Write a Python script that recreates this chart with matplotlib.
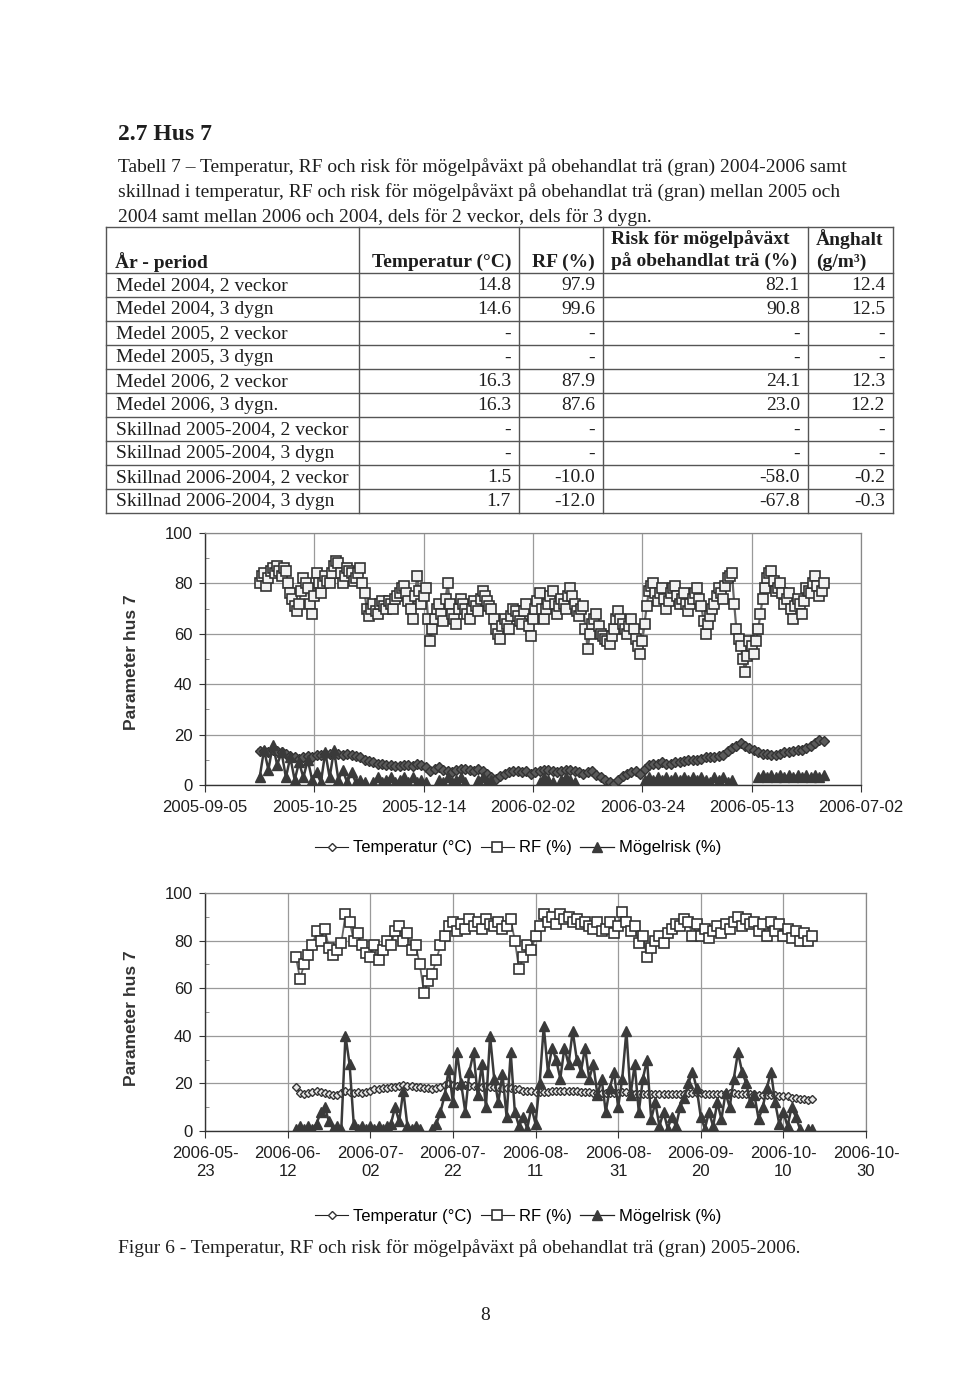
import numpy as np
import matplotlib
matplotlib.use("Agg")
import matplotlib.pyplot as plt
from matplotlib.lines import Line2D
from matplotlib.ticker import MultipleLocator

nan = np.nan

# ---------------- text / table data ----------------
heading = "2.7 Hus 7"
para_lines = [
    "Tabell 7 \u2013 Temperatur, RF och risk för mögelpåväxt på obehandlat trä (gran) 2004-2006 samt",
    "skillnad i temperatur, RF och risk för mögelpåväxt på obehandlat trä (gran) mellan 2005 och",
    "2004 samt mellan 2006 och 2004, dels för 2 veckor, dels för 3 dygn.",
]
caption = "Figur 6 - Temperatur, RF och risk för mögelpåväxt på obehandlat trä (gran) 2005-2006."
page_no = "8"

periods = ["Medel 2004, 2 veckor", "Medel 2004, 3 dygn", "Medel 2005, 2 veckor",
           "Medel 2005, 3 dygn", "Medel 2006, 2 veckor", "Medel 2006, 3 dygn.",
           "Skillnad 2005-2004, 2 veckor", "Skillnad 2005-2004, 3 dygn",
           "Skillnad 2006-2004, 2 veckor", "Skillnad 2006-2004, 3 dygn"]
tab_temp = [14.8, 14.6, None, None, 16.3, 16.3, None, None, 1.5, 1.7]
tab_rf = [97.9, 99.6, None, None, 87.9, 87.6, None, None, -10.0, -12.0]
tab_risk = [82.1, 90.8, None, None, 24.1, 23.0, None, None, -58.0, -67.8]
tab_vap = [12.4, 12.5, None, None, 12.3, 12.2, None, None, -0.2, -0.3]

series_names = ["Temperatur (°C)", "RF (%)", "Mögelrisk (%)"]
ylabel = "Parameter hus 7"

# ---------------- chart 1 data (every 2nd day from 2005-09-30) ----------------
c1_start = "2005-09-30"
c1_step = 2
c1_xlim = ("2005-09-05", "2006-07-02")
c1_ticks = ["2005-09-05", "2005-10-25", "2005-12-14", "2006-02-02",
            "2006-03-24", "2006-05-13", "2006-07-02"]
c1_rf = [80, 84, 82, 86, 87, 83, 85, 76, 71, 72, 82, 78, 68, 84, 76, 83, 80, 87, 88, 80,
         86, 84, 82, 86, 76, 67, 72, 68, 73, 70, 72, 74, 76, 79, 73, 66, 83, 72, 78, 57,
         66, 72, 65, 80, 68, 64, 74, 70, 66, 73, 69, 77, 73, 70, 62, 58, 66, 62, 70, 67,
         64, 72, 59, 70, 76, 66, 72, 77, 68, 74, 70, 78, 72, 67, 71, 54, 64, 68, 60, 58,
         56, 62, 69, 64, 60, 66, 58, 52, 64, 77, 80, 73, 78, 70, 76, 79, 72, 76, 69, 74,
         78, 71, 60, 67, 72, 78, 74, 82, 84, 62, 55, 45, 57, 52, 62, 74, 82, 85, 77, 80,
         72, 76, 66, 74, 68, 78, 76, 83, 75, 80]
# readings on the in-between days (2005-10-01, 2005-10-03, ...)
c1_rf_mid = [83, 79, 85, 84, 85, 86, 80, 74, 69, 77, 80, 72, 75, 80, 80, 81, 84, 89, 84, 83,
             85, 81, 84, 80, 70, 70, 69, 72, 71, 73, 70, 75, 78, 76, 70, 75, 77, 75, 66, 62,
             70, 68, 74, 72, 66, 70, 72, 68, 70, 71, 74, 75, 71, 66, 60, 63, 64, 67, 69, 65,
             69, 63, 66, 73, 70, 70, 75, 72, 71, 72, 75, 75, 69, 70, 62, 60, 66, 63, 59, 57,
             59, 66, 66, 62, 63, 62, 55, 57, 71, 79, 76, 76, 74, 73, 78, 75, 74, 72, 72, 76,
             74, 65, 64, 70, 75, 76, 79, 83, 72, 58, 50, 51, 55, 57, 68, 78, 84, 81, 78, 76,
             74, 70, 71, 72, 73, 77, 80, 79, 77]
c1_temp = [13.5, 13.5, 13, 14, 13.5, 13, 12.5, 11.5, 11, 10.5, 11, 11.5, 11, 12, 12, 12.5,
           12.5, 12.5, 12.5, 12, 12.5, 12, 11.5, 11, 10, 9.5, 9, 8.5, 8.5, 8, 8, 7.5, 7.5,
           8, 8, 7.5, 8.5, 8, 7, 5.5, 6.5, 7, 6, 5.5, 5, 6, 6.5, 6.5, 6, 5.5, 6.5, 5.5,
           4.5, 3, 2.5, 3.5, 4.5, 5, 5.5, 5.5, 5, 5.5, 4.5, 5, 5.5, 6, 6, 5.5, 5, 5.5, 6,
           6, 5.5, 5, 4.5, 5, 5.5, 4, 3, 2, 1, 0.5, 2, 3.5, 4.5, 5, 5.5, 4.5, 6.5, 8, 8.5,
           8.5, 9, 8.5, 8.5, 9, 9, 9.5, 10, 10, 10, 10.5, 11, 11, 11, 11.5, 12, 13.5, 14.5,
           15.5, 16.5, 15.5, 14.5, 14, 13, 12.5, 12.5, 12, 12, 12.5, 13, 13, 13.5, 14, 14,
           14.5, 15.5, 16.5, 18, 17.5]
c1_mold = [3, 14, 6, 16, 8, 13, 3, 11, 2, 9, 3, 10, 2, 5, 1, 13, 3, 14, 2, 6,
           1, 5, 1, 2, 1, nan, 1, 3, 1, 2, 3, 1, 2, 3, 1, 3, 1, 2, 1, nan,
           nan, 2, 1, 3, 1, 2, 3, 1, nan, nan, 2, 3, 1, 2,
           nan, nan, nan, nan, nan, nan, nan, nan, nan, nan,
           1, 3, 2, 1, nan, 2, 3, 2, 1,
           nan, nan, nan, nan, nan, nan, nan, nan, nan, nan, nan, nan, nan, nan, nan,
           2, 3, 2, 3, 2, 3, 2, 3, 2, 3, 2, 3, 2, 3, 2, 1, 3, 2, 3, 1, 2,
           nan, nan, nan, nan, nan,
           3, 4, 3, 4, 3, 4, 3, 4, 3, 4, 3, 4, 3, 4, 3, 4]

# ---------------- chart 2 data (daily from 2006-06-14) ----------------
c2_start = "2006-06-14"
c2_step = 1
c2_xlim = ("2006-05-23", "2006-10-30")
c2_ticks = ["2006-05-\n23", "2006-06-\n12", "2006-07-\n02", "2006-07-\n22", "2006-08-\n11",
            "2006-08-\n31", "2006-09-\n20", "2006-10-\n10", "2006-10-\n30"]
c2_rf = [73, 64, 70, 74, 78, 84, 80, 85, 77, 74, 76, 79, 91, 88, 80, 83, 78, 75, 73, 78,
         72, 76, 80, 78, 84, 86, 80, 83, 76, 78, 70, 58, 63, 66, 72, 78, 82, 86, 88, 84,
         87, 85, 89, 86, 88, 85, 89, 87, 86, 88, 85, 86, 89, 80, 68, 73, 78, 76, 82, 86,
         91, 88, 90, 87, 91, 89, 90, 88, 89, 87, 88, 86, 85, 88, 84, 85, 88, 83, 86, 92,
         88, 84, 86, 79, 82, 73, 77, 80, 82, 79, 83, 85, 87, 86, 89, 88, 82, 87, 82, 85,
         81, 84, 86, 83, 87, 85, 88, 90, 86, 89, 87, 88, 84, 87, 82, 88, 84, 87, 82, 85,
         81, 84, 80, 83, 80, 82]
c2_temp = [18.5, 16, 15.5, 16, 16.5, 17, 16.5, 16, 15.5, 15, 15, 16, 17, 16.5, 16, 16.5,
           16, 16.5, 17, 17.5, 17.5, 18, 18, 18.5, 18.5, 19, 19.5, 19, 19, 18.5, 18.5, 18,
           18, 17.5, 18, 18.5, 19.5, 20, 19.5, 19, 19, 19.5, 19, 19, 18.5, 18.5, 19, 18.5,
           18.5, 18.5, 18, 18, 18, 17.5, 17.5, 17, 17, 17, 16.5, 16.5, 16.5, 16.5, 17, 17,
           17, 17, 17, 17, 17, 16.5, 16.5, 16.5, 16, 16, 16, 16, 16, 16, 16, 16.5, 16.5, 16,
           15.5, 15.5, 15.5, 15.5, 15.5, 15.5, 15.5, 15.5, 15.5, 15.5, 15.5, 15.5, 15.5, 16,
           16, 16, 16, 15.5, 15.5, 15.5, 15.5, 15.5, 16, 16, 16, 15.5, 15.5, 15.5, 15.5,
           15.5, 15, 15, 15, 15, 15, 14.5, 14.5, 14.5, 14, 14, 13.5, 13.5, 13, 13.5]
c2_mold = [1, 2, 1, 2, 1, 3, 8, 10, 4, 1, 2, 1, 40, 28, 3, 1, 2, 1, 2, 1,
           2, 1, 2, 3, 10, 4, 17, 2, 1, 2, 1, nan, nan, 1, 3, 8, 15, 26, 12, 33,
           20, 8, 25, 33, 15, 28, 10, 40, 22, 12, 24, 6, 33, 8, 2, 6, 1, 10, 3, 20,
           44, 25, 35, 30, 22, 35, 28, 42, 30, 25, 35, 22, 28, 15, 22, 8, 18, 25, 10, 22,
           42, 15, 28, 8, 22, 30, 5, 12, 2, 8, 1, 6, 2, 10, 14, 20, 25, 18, 6, 1,
           8, 2, 12, 5, 16, 10, 22, 33, 25, 20, 12, 15, 5, 10, 18, 25, 12, 3, 8, 2,
           10, 6, 1, nan, 1, 1]

# ---------------- figure ----------------
W, H = 960, 1383
fig = plt.figure(figsize=(W / 100, H / 100), dpi=100)
fig.patch.set_facecolor("white")
page = fig.add_axes([0, 0, 1, 1])
page.set_xlim(0, W)
page.set_ylim(H, 0)
page.axis("off")

SERIF = ["Liberation Serif", "DejaVu Serif"]
SANS = ["Liberation Sans", "DejaVu Sans"]
INK = "#1e1e1e"

page.text(118, 134, heading, fontsize=17, fontweight="bold", family=SERIF,
          va="center", color=INK)
for i, line in enumerate(para_lines):
    page.text(118, 167 + 25 * i, line, fontsize=14, family=SERIF, va="center", color=INK)

# ---- table ----
cols = [106, 359, 519, 603, 808, 893]
top, head_bot, row_h = 227, 273, 24
n = len(periods)
bottom = head_bot + n * row_h
lc = "#555555"
for x in cols:
    page.plot([x, x], [top, bottom], color=lc, lw=1)
for y in [top, head_bot] + [head_bot + row_h * (i + 1) for i in range(n)]:
    page.plot([cols[0], cols[-1]], [y, y], color=lc, lw=1)

hk = dict(fontsize=14, family=SERIF, fontweight="bold", va="center", color=INK)
page.text(cols[0] + 9, 262, "År - period", ha="left", **hk)
page.text(cols[2] - 8, 262, "Temperatur (°C)", ha="right", **hk)
page.text(cols[3] - 8, 262, "RF (%)", ha="right", **hk)
page.text(cols[3] + 8, 239, "Risk för mögelpåväxt", ha="left", **hk)
page.text(cols[3] + 8, 262, "på obehandlat trä (%)", ha="left", **hk)
page.text(cols[4] + 8, 239, "Ånghalt", ha="left", **hk)
page.text(cols[4] + 8, 262, "(g/m³)", ha="left", **hk)

def fmt(v):
    return "-" if v is None else f"{v:.1f}"

bk = dict(fontsize=14, family=SERIF, va="center", color=INK)
for i in range(n):
    yc = head_bot + row_h * i + row_h / 2 + 1
    page.text(cols[0] + 10, yc, periods[i], ha="left", **bk)
    for j, vals in enumerate([tab_temp, tab_rf, tab_risk, tab_vap]):
        page.text(cols[j + 2] - 8, yc, fmt(vals[i]), ha="right", **bk)

# ---- charts ----
def frac(l, t, r, b):
    return [l / W, 1 - b / H, (r - l) / W, (b - t) / H]

st_temp = dict(marker="D", ms=4.5, mfc="white", mec="#333333", mew=1.0,
               color="#4a4a4a", lw=0.8)
st_rf = dict(marker="s", ms=6.5, mfc="white", mec="#333333", mew=1.2,
             color="#666666", lw=0.8)
st_mold = dict(marker="^", ms=6.5, mfc="#3a3a3a", mec="#3a3a3a", mew=1.0,
               color="#3a3a3a", lw=0.9)

def dates(start, step, vals):
    return np.datetime64(start) + np.arange(len(vals)) * np.timedelta64(step, "D")

def make_chart(rect, tdat, rdat, mdat, xlim, ticks, t_over, r_over, m_over):
    ax = fig.add_axes(rect)
    ax.plot(tdat[0], tdat[1], **{**st_temp, **t_over}, zorder=3)
    ax.plot(rdat[0], rdat[1], **{**st_rf, **r_over}, zorder=4)
    ax.plot(mdat[0], mdat[1], **{**st_mold, **m_over}, zorder=5)
    ax.set_xlim(np.datetime64(xlim[0]), np.datetime64(xlim[1]))
    ax.set_ylim(0, 100)
    ax.set_xticks([np.datetime64(t.replace("\n", "")) for t in ticks])
    ax.set_xticklabels(ticks, fontsize=12, family=SANS, linespacing=1.25)
    ax.yaxis.set_major_locator(MultipleLocator(20))
    ax.yaxis.set_minor_locator(MultipleLocator(10))
    for lab in ax.get_yticklabels():
        lab.set_family(SANS)
        lab.set_fontsize(12)
    ax.tick_params(axis="y", which="major", length=4, pad=5, colors="#333333", labelcolor=INK)
    ax.tick_params(axis="y", which="minor", direction="in", length=3, colors="#777777")
    ax.tick_params(axis="x", length=5, pad=6, colors="#333333", labelcolor=INK)
    ax.grid(True, which="major", color="#9a9a9a", lw=0.9)
    ax.set_axisbelow(True)
    for s in ["left", "bottom"]:
        ax.spines[s].set_color("#333333")
        ax.spines[s].set_linewidth(1.0)
    for s in ["top", "right"]:
        ax.spines[s].set_color("#888888")
        ax.spines[s].set_linewidth(0.9)
    ax.set_facecolor("none")
    return ax

# chart 1: RF readings interleaved (every day)
rf1_dates = np.concatenate([dates(c1_start, c1_step, c1_rf),
                            dates(c1_start, c1_step, c1_rf_mid) + np.timedelta64(1, "D")])
rf1_vals = np.concatenate([np.array(c1_rf, float), np.array(c1_rf_mid, float)])
order = np.argsort(rf1_dates)
ax1 = make_chart(frac(205, 533, 861, 785),
                 (dates(c1_start, c1_step, c1_temp), c1_temp),
                 (rf1_dates[order], rf1_vals[order]),
                 (dates(c1_start, c1_step, c1_mold), c1_mold),
                 c1_xlim, c1_ticks,
                 {"lw": 3.5, "mfc": "#5a5a5a", "ms": 5},
                 {"lw": 1.6, "mfc": "#f2f2f2"},
                 {"lw": 1.8, "ms": 7})
ax2 = make_chart(frac(205, 893, 866, 1131),
                 (dates(c2_start, c2_step, c2_temp), c2_temp),
                 (dates(c2_start, c2_step, c2_rf), c2_rf),
                 (dates(c2_start, c2_step, c2_mold), c2_mold),
                 c2_xlim, c2_ticks,
                 {"lw": 1.2, "mfc": "#e6e6e6"},
                 {"lw": 1.3},
                 {"lw": 1.8, "ms": 7.5})

page.text(131, 662, ylabel, rotation=90, fontsize=12.5, fontweight="bold", family=SANS,
          ha="center", va="center", color="#333333")
page.text(131, 1018, ylabel, rotation=90, fontsize=12.5, fontweight="bold", family=SANS,
          ha="center", va="center", color="#333333")

handles = [Line2D([], [], **st_temp), Line2D([], [], **st_rf), Line2D([], [], **st_mold)]
for h in handles:
    h.set_color("#222222")
for yl in (848, 1216):
    fig.legend(handles, series_names, loc="center", bbox_to_anchor=(518 / W, 1 - yl / H),
               ncol=3, frameon=False, prop={"family": SANS, "size": 12},
               handlelength=2.0, handletextpad=0.3, columnspacing=0.5, borderpad=0)

page.text(118, 1248, caption, fontsize=14, family=SERIF, va="center", color=INK)
page.text(485, 1316, page_no, fontsize=14, family=SERIF, ha="center", va="center", color=INK)

fig.savefig("out.png", dpi=100, facecolor="white")
